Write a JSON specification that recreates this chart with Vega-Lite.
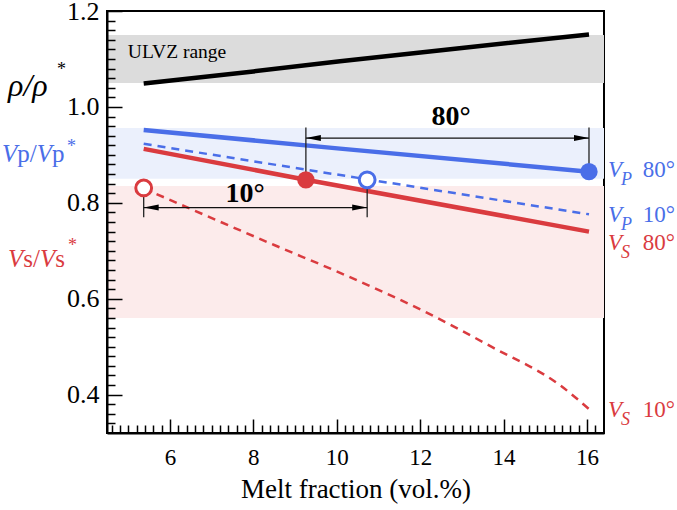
{
  "$schema": "https://vega.github.io/schema/vega-lite/v6.json",
  "width": 497,
  "height": 422,
  "autosize": {"type": "none"},
  "padding": {"left": 107, "top": 11, "right": 73, "bottom": 77},
  "background": "white",
  "config": {"view": {"stroke": "black", "strokeWidth": 2}, "font": "Liberation Serif"},
  "datasets": {
    "bands": [
      {"band": "ULVZ range", "x": 4.49, "x2": 16.41, "y": 1.05, "y2": 1.15},
      {"band": "Vp range", "x": 4.49, "x2": 16.41, "y": 0.85, "y2": 0.956},
      {"band": "Vs range", "x": 4.49, "x2": 16.41, "y": 0.56, "y2": 0.835}
    ],
    "bandlabel": [{"text": "ULVZ range", "x": 4.99, "y": 1.102}],
    "lines": [
      {"series": "rho", "angle": "all", "x": 5.37, "y": 1.049},
      {"series": "rho", "angle": "all", "x": 8.0, "y": 1.074},
      {"series": "rho", "angle": "all", "x": 10.08, "y": 1.095},
      {"series": "rho", "angle": "all", "x": 13.0, "y": 1.123},
      {"series": "rho", "angle": "all", "x": 16.05, "y": 1.151},
      {"series": "Vp", "angle": "80", "x": 5.37, "y": 0.952},
      {"series": "Vp", "angle": "80", "x": 10.08, "y": 0.913},
      {"series": "Vp", "angle": "80", "x": 16.05, "y": 0.865},
      {"series": "Vs", "angle": "80", "x": 5.37, "y": 0.9125},
      {"series": "Vs", "angle": "80", "x": 9.26, "y": 0.848},
      {"series": "Vs", "angle": "80", "x": 16.05, "y": 0.74},
      {"series": "Vp", "angle": "10", "x": 5.37, "y": 0.923},
      {"series": "Vp", "angle": "10", "x": 10.73, "y": 0.849},
      {"series": "Vp", "angle": "10", "x": 16.05, "y": 0.776},
      {"series": "Vs", "angle": "10", "x": 5.37, "y": 0.83},
      {"series": "Vs", "angle": "10", "x": 6.9, "y": 0.772},
      {"series": "Vs", "angle": "10", "x": 8.5, "y": 0.712},
      {"series": "Vs", "angle": "10", "x": 10.08, "y": 0.654},
      {"series": "Vs", "angle": "10", "x": 12.16, "y": 0.571},
      {"series": "Vs", "angle": "10", "x": 13.75, "y": 0.498},
      {"series": "Vs", "angle": "10", "x": 15.35, "y": 0.42},
      {"series": "Vs", "angle": "10", "x": 16.05, "y": 0.37}
    ],
    "points": [
      {"series": "Vs", "angle": "10", "x": 5.37, "y": 0.831},
      {"series": "Vp", "angle": "10", "x": 10.73, "y": 0.848},
      {"series": "Vs", "angle": "80", "x": 9.26, "y": 0.848},
      {"series": "Vp", "angle": "80", "x": 16.05, "y": 0.865}
    ],
    "vrules": [
      {"x": 9.26, "y": 0.957, "y2": 0.848},
      {"x": 16.05, "y": 0.957, "y2": 0.865},
      {"x": 5.37, "y": 0.831, "y2": 0.77},
      {"x": 10.73, "y": 0.848, "y2": 0.77}
    ],
    "hrules": [
      {"x": 9.26, "x2": 16.05, "y": 0.935},
      {"x": 5.37, "x2": 10.73, "y": 0.79}
    ],
    "arrows": [
      {"dir": "left", "x": 9.26, "y": 0.935},
      {"dir": "right", "x": 16.05, "y": 0.935},
      {"dir": "left", "x": 5.37, "y": 0.79},
      {"dir": "right", "x": 10.73, "y": 0.79}
    ],
    "angles": [
      {"text": "80°", "x": 12.74, "y": 0.978},
      {"text": "10°", "x": 7.8, "y": 0.818}
    ],
    "rholabel": [{"series": "rho", "text": "ρ/ρ", "x": 2.116, "y": 1.023}],
    "leftItalic": [
      {"series": "Vp", "text": "V", "x": 1.972, "y": 0.885},
      {"series": "Vp", "text": "V", "x": 2.806, "y": 0.885},
      {"series": "Vs", "text": "V", "x": 2.116, "y": 0.667},
      {"series": "Vs", "text": "V", "x": 2.883, "y": 0.667}
    ],
    "leftUpright": [
      {"series": "Vp", "text": "p/", "x": 2.339, "y": 0.885},
      {"series": "Vp", "text": "p", "x": 3.173, "y": 0.885},
      {"series": "Vs", "text": "s/", "x": 2.483, "y": 0.667},
      {"series": "Vs", "text": "s", "x": 3.25, "y": 0.667}
    ],
    "stars": [
      {"series": "rho", "text": "*", "x": 3.291, "y": 1.0667},
      {"series": "Vp", "text": "*", "x": 3.531, "y": 0.9062},
      {"series": "Vs", "text": "*", "x": 3.555, "y": 0.699}
    ],
    "rightV": [
      {"series": "Vp", "text": "V", "x": 16.504, "y": 0.854},
      {"series": "Vp", "text": "V", "x": 16.504, "y": 0.76},
      {"series": "Vs", "text": "V", "x": 16.504, "y": 0.702},
      {"series": "Vs", "text": "V", "x": 16.504, "y": 0.354}
    ],
    "rightSub": [
      {"series": "Vp", "text": "P", "x": 16.816, "y": 0.837},
      {"series": "Vp", "text": "P", "x": 16.816, "y": 0.743},
      {"series": "Vs", "text": "S", "x": 16.816, "y": 0.685},
      {"series": "Vs", "text": "S", "x": 16.816, "y": 0.337}
    ],
    "rightDeg": [
      {"series": "Vp", "text": "80°", "x": 17.34, "y": 0.854},
      {"series": "Vp", "text": "10°", "x": 17.34, "y": 0.76},
      {"series": "Vs", "text": "80°", "x": 17.34, "y": 0.702},
      {"series": "Vs", "text": "10°", "x": 17.34, "y": 0.354}
    ]
  },
  "encoding": {
    "x": {
      "field": "x", "type": "quantitative",
      "scale": {"domain": [4.49, 16.41], "nice": false, "zero": false},
      "axis": {
        "values": [4.6,4.8,5,5.2,5.4,5.6,5.8,6,6.2,6.4,6.6,6.8,7,7.2,7.4,7.6,7.8,8,8.2,8.4,8.6,8.8,9,9.2,9.4,9.6,9.8,10,10.2,10.4,10.6,10.8,11,11.2,11.4,11.6,11.8,12,12.2,12.4,12.6,12.8,13,13.2,13.4,13.6,13.8,14,14.2,14.4,14.6,14.8,15,15.2,15.4,15.6,15.8,16,16.2],
        "title": "Melt fraction (vol.%)",
        "titleFont": "Liberation Serif", "titleFontSize": 27, "titleFontWeight": "normal", "titleColor": "black",
        "titleY": 64, "titleBaseline": "alphabetic",
        "labelExpr": "abs(datum.value/2-round(datum.value/2))<0.01 ? format(datum.value,'.0f') : ''",
        "labelFont": "Liberation Serif", "labelFontSize": 23, "labelColor": "black",
        "labelPadding": 27, "labelFlush": false, "labelOverlap": false, "labelBound": false,
        "tickSize": {"condition": {"test": "abs(datum.value/2-round(datum.value/2))<0.01", "value": -14}, "value": -8},
        "tickColor": "black", "tickWidth": 1.5,
        "domainColor": "black", "domainWidth": 2, "grid": false, "zindex": 1
      }
    },
    "y": {
      "field": "y", "type": "quantitative",
      "scale": {"domain": [0.32, 1.2], "nice": false, "zero": false},
      "axis": {
        "values": [0.34,0.36,0.38,0.4,0.42,0.44,0.46,0.48,0.5,0.52,0.54,0.56,0.58,0.6,0.62,0.64,0.66,0.68,0.7,0.72,0.74,0.76,0.78,0.8,0.82,0.84,0.86,0.88,0.9,0.92,0.94,0.96,0.98,1,1.02,1.04,1.06,1.08,1.1,1.12,1.14,1.16,1.18,1.2],
        "title": null,
        "labelExpr": "abs(datum.value*5-round(datum.value*5))<0.01 ? format(datum.value,'.1f') : ''",
        "labelFont": "Liberation Serif", "labelFontSize": 26, "labelColor": "black",
        "labelPadding": 23, "labelFlush": false, "labelOverlap": false, "labelBound": false,
        "tickSize": {"condition": {"test": "abs(datum.value*5-round(datum.value*5))<0.01", "value": -15}, "value": -8},
        "tickColor": "black", "tickWidth": 1.5,
        "domainColor": "black", "domainWidth": 2, "grid": false, "zindex": 1
      }
    }
  },
  "layer": [
    {
      "data": {"name": "bands"},
      "mark": {"type": "rect"},
      "encoding": {
        "x2": {"field": "x2"},
        "y2": {"field": "y2"},
        "fill": {"field": "band", "type": "nominal", "scale": {"domain": ["ULVZ range", "Vp range", "Vs range"], "range": ["#dcdcdc", "#ebf0fc", "#fcebeb"]}, "legend": null}
      }
    },
    {
      "data": {"name": "bandlabel"},
      "mark": {"type": "text", "align": "left", "baseline": "alphabetic", "fontSize": 19.5, "color": "black", "font": "Liberation Serif"},
      "encoding": {"text": {"field": "text"}}
    },
    {
      "data": {"name": "lines"},
      "transform": [{"filter": "datum.angle != '10'"}],
      "mark": {"type": "line", "strokeWidth": 4.5},
      "encoding": {
        "color": {"field": "series", "type": "nominal", "scale": {"domain": ["rho", "Vp", "Vs"], "range": ["#000000", "#4a6ee8", "#da3b3f"]}, "legend": null},
        "detail": {"field": "angle"}
      }
    },
    {
      "data": {"name": "lines"},
      "transform": [{"filter": "datum.angle == '10'"}],
      "mark": {"type": "line", "strokeWidth": 2.5, "strokeDash": [8, 6], "interpolate": "monotone"},
      "encoding": {
        "color": {"field": "series", "type": "nominal", "scale": {"domain": ["rho", "Vp", "Vs"], "range": ["#000000", "#4a6ee8", "#da3b3f"]}, "legend": null}
      }
    },
    {
      "data": {"name": "vrules"},
      "mark": {"type": "rule", "color": "#222222", "strokeWidth": 1.3},
      "encoding": {"y2": {"field": "y2"}}
    },
    {
      "data": {"name": "hrules"},
      "mark": {"type": "rule", "color": "#111111", "strokeWidth": 1.3},
      "encoding": {"x2": {"field": "x2"}}
    },
    {
      "data": {"name": "arrows"},
      "mark": {"type": "point", "filled": true, "color": "black", "size": 225, "opacity": 1},
      "encoding": {
        "shape": {"field": "dir", "type": "nominal", "scale": {"domain": ["left", "right"], "range": ["M0,0L2,-0.4L2,0.4Z", "M0,0L-2,-0.4L-2,0.4Z"]}, "legend": null}
      }
    },
    {
      "data": {"name": "points"},
      "transform": [{"filter": "datum.angle == '10'"}],
      "mark": {"type": "point", "shape": "circle", "filled": false, "fill": "white", "fillOpacity": 1, "strokeWidth": 3, "size": 250, "opacity": 1},
      "encoding": {
        "color": {"field": "series", "type": "nominal", "scale": {"domain": ["rho", "Vp", "Vs"], "range": ["#000000", "#4a6ee8", "#da3b3f"]}, "legend": null}
      }
    },
    {
      "data": {"name": "points"},
      "transform": [{"filter": "datum.angle == '80'"}],
      "mark": {"type": "point", "shape": "circle", "filled": true, "size": 300, "opacity": 1},
      "encoding": {
        "color": {"field": "series", "type": "nominal", "scale": {"domain": ["rho", "Vp", "Vs"], "range": ["#000000", "#4a6ee8", "#da3b3f"]}, "legend": null}
      }
    },
    {
      "data": {"name": "angles"},
      "mark": {"type": "text", "align": "center", "baseline": "middle", "fontSize": 28, "fontWeight": "bold", "font": "Liberation Serif", "color": "black"},
      "encoding": {"text": {"field": "text"}}
    },
    {
      "data": {"name": "rholabel"},
      "mark": {"type": "text", "align": "left", "baseline": "alphabetic", "fontSize": 32, "fontStyle": "italic", "font": "Liberation Serif", "color": "black", "clip": false},
      "encoding": {"text": {"field": "text"}}
    },
    {
      "data": {"name": "leftItalic"},
      "mark": {"type": "text", "align": "left", "baseline": "alphabetic", "fontSize": 25, "fontStyle": "italic", "font": "Liberation Serif"},
      "encoding": {
        "text": {"field": "text"},
        "color": {"field": "series", "type": "nominal", "scale": {"domain": ["rho", "Vp", "Vs"], "range": ["#000000", "#4a6ee8", "#da3b3f"]}, "legend": null}
      }
    },
    {
      "data": {"name": "leftUpright"},
      "mark": {"type": "text", "align": "left", "baseline": "alphabetic", "fontSize": 25, "font": "Liberation Serif"},
      "encoding": {
        "text": {"field": "text"},
        "color": {"field": "series", "type": "nominal", "scale": {"domain": ["rho", "Vp", "Vs"], "range": ["#000000", "#4a6ee8", "#da3b3f"]}, "legend": null}
      }
    },
    {
      "data": {"name": "stars"},
      "mark": {"type": "text", "align": "left", "baseline": "alphabetic", "fontSize": 18, "font": "Liberation Serif"},
      "encoding": {
        "text": {"field": "text"},
        "color": {"field": "series", "type": "nominal", "scale": {"domain": ["rho", "Vp", "Vs"], "range": ["#000000", "#4a6ee8", "#da3b3f"]}, "legend": null}
      }
    },
    {
      "data": {"name": "rightV"},
      "mark": {"type": "text", "align": "left", "baseline": "alphabetic", "fontSize": 23, "fontStyle": "italic", "font": "Liberation Serif"},
      "encoding": {
        "text": {"field": "text"},
        "color": {"field": "series", "type": "nominal", "scale": {"domain": ["rho", "Vp", "Vs"], "range": ["#000000", "#4a6ee8", "#da3b3f"]}, "legend": null}
      }
    },
    {
      "data": {"name": "rightSub"},
      "mark": {"type": "text", "align": "left", "baseline": "alphabetic", "fontSize": 18, "fontStyle": "italic", "font": "Liberation Serif"},
      "encoding": {
        "text": {"field": "text"},
        "color": {"field": "series", "type": "nominal", "scale": {"domain": ["rho", "Vp", "Vs"], "range": ["#000000", "#4a6ee8", "#da3b3f"]}, "legend": null}
      }
    },
    {
      "data": {"name": "rightDeg"},
      "mark": {"type": "text", "align": "left", "baseline": "alphabetic", "fontSize": 23, "font": "Liberation Serif"},
      "encoding": {
        "text": {"field": "text"},
        "color": {"field": "series", "type": "nominal", "scale": {"domain": ["rho", "Vp", "Vs"], "range": ["#000000", "#4a6ee8", "#da3b3f"]}, "legend": null}
      }
    }
  ]
}
